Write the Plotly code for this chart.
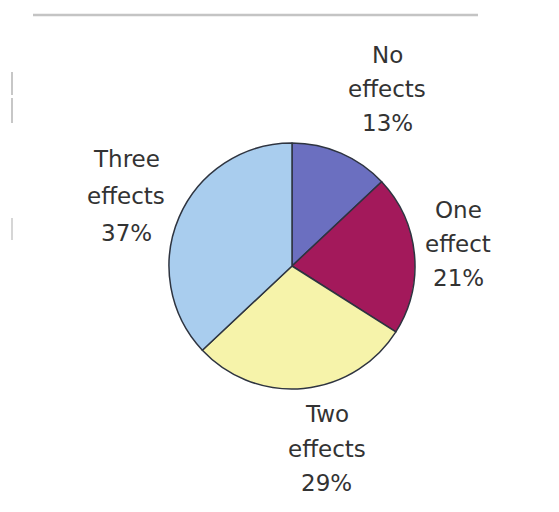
import plotly.graph_objects as go

labels = ["No effects", "One effect", "Two effects", "Three effects"]
values = [13, 21, 29, 37]
colors = ["#6b6fc0", "#a3195b", "#f6f3aa", "#a9cdee"]
label_lines = [["No", "effects", "13%"], ["One", "effect", "21%"],
               ["Two", "effects", "29%"], ["Three", "effects", "37%"]]

W, H = 559, 512
# label anchor centres (pixels) for first line of each slice label, and line gap
label_pos = [(387, 55), (458, 210), (327, 414), (126, 159)]
line_gaps = [34, 34, 34.5, 37]

fig = go.Figure(go.Pie(
    labels=labels, values=values, sort=False, direction="clockwise", rotation=0,
    marker=dict(colors=colors, line=dict(color="#2e3440", width=1.5)),
    textinfo="none", hoverinfo="label+percent", showlegend=False,
    domain=dict(x=[169 / W, 415 / W], y=[(H - 389) / H, (H - 143) / H]),
))

annotations = []
for (cx, cy), lines, gap in zip(label_pos, label_lines, line_gaps):
    for i, t in enumerate(lines):
        annotations.append(dict(
            x=cx / W, y=(H - (cy + i * gap)) / H, xref="paper", yref="paper",
            text=t, showarrow=False, xanchor="center", yanchor="middle",
            font=dict(family="DejaVu Sans, Verdana, sans-serif", size=23, color="#333333"),
        ))

def vline(x, y0, y1, color="#b5b5b5", width=1.5):
    return dict(type="line", xref="paper", yref="paper",
                x0=x / W, x1=x / W, y0=(H - y0) / H, y1=(H - y1) / H,
                line=dict(color=color, width=width))

fig.update_layout(
    width=W, height=H, margin=dict(l=0, r=0, t=0, b=0),
    paper_bgcolor="white", plot_bgcolor="white",
    annotations=annotations,
    shapes=[dict(type="line", xref="paper", yref="paper",
                 x0=33 / W, x1=478 / W, y0=(H - 15) / H, y1=(H - 15) / H,
                 line=dict(color="#c4c4c4", width=2.5)),
            vline(12, 72, 95), vline(12, 98, 123), vline(12, 218, 240, "#c8c8c8")],
)

fig.write_html("out.html")
